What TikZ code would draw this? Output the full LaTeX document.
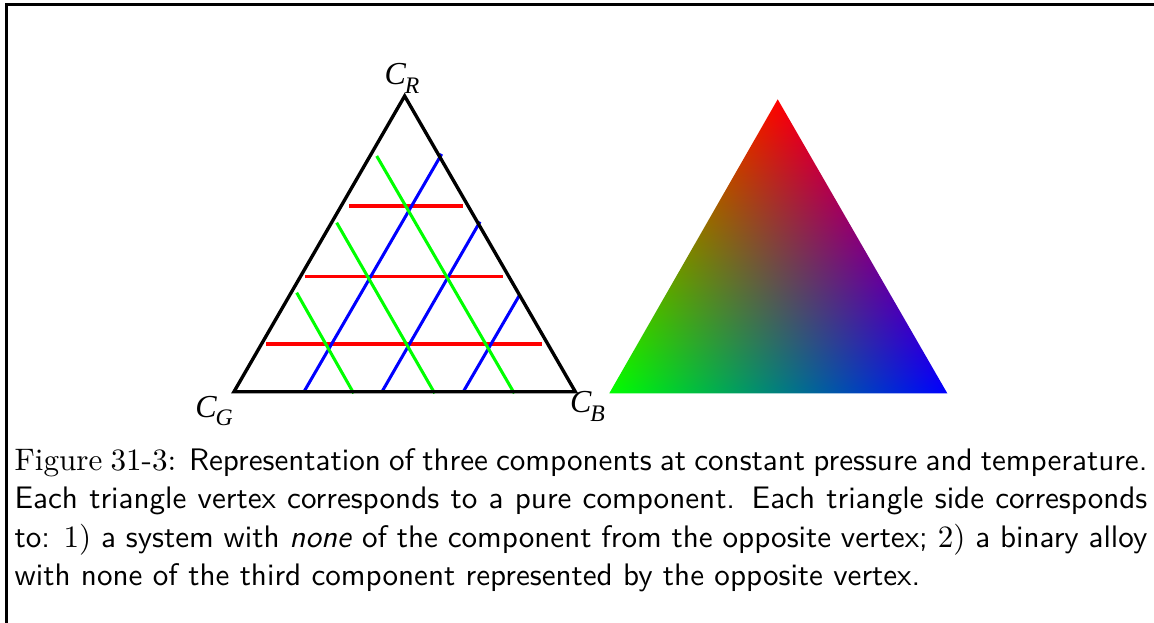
\documentclass[tikz,border=0pt]{standalone}
\usepackage{fontspec}
\newfontfamily\tms{Liberation Serif}
\pgfdeclarefunctionalshading{bary}{\pgfpoint{0bp}{0bp}}{\pgfpoint{100bp}{100bp}}{}{
  25 sub 50 div exch 25 sub 50 div exch
  dup 2 div
  2 index 1 index sub
  exch 1 exch sub 3 index sub
  exch 4 -1 roll pop
}
\tikzset{
  frameline/.style={line width=1pt, black},
  edge/.style={line width=1.05pt, black, line join=miter},
  redl/.style={line width=0.95pt, red},
  bluel/.style={line width=0.95pt, blue},
  greenl/.style={line width=0.95pt, green},
  vlab/.style={inner sep=0pt, font=\tms\itshape\fontsize{10}{12}\selectfont},
  capline/.style={anchor=base west, inner sep=0pt, font=\fontsize{9.72}{12}\selectfont\sffamily},
}
\newcommand{\sub}[1]{\kern-0.3pt\raisebox{-0.28em}{\fontsize{7.4}{8}\selectfont #1}}
\begin{document}
\begin{tikzpicture}[x=0.3125pt, y=-0.3125pt]
\useasboundingbox (0,0) rectangle (1154,623);
% frame
\coordinate (f1) at (6.5,623);
\coordinate (f2) at (6.5,4.7);
\coordinate (f3) at (1154,4.7);
\draw[frameline] (f1) -- (f2) -- (f3);
% left triangle vertices
\coordinate (G) at (234,391.7);
\coordinate (B) at (575.3,391.7);
\coordinate (R) at (404.65,96);
% red lines (constant R)
\coordinate (r1a) at (349,206);   \coordinate (r1b) at (462.7,206);
\coordinate (r2a) at (305,276.7); \coordinate (r2b) at (503.3,276.7);
\coordinate (r3a) at (266,344);   \coordinate (r3b) at (542.3,344);
\draw[redl] (r1a) -- (r1b);
\draw[redl] (r2a) -- (r2b);
\draw[redl] (r3a) -- (r3b);
% blue lines
\coordinate (b1a) at (304,391.7);   \coordinate (b1b) at (441.7,154);
\coordinate (b2a) at (382,391.7);   \coordinate (b2b) at (480,221.7);
\coordinate (b3a) at (463.3,391.7); \coordinate (b3b) at (520,294.3);
\draw[bluel] (b1a) -- (b1b);
\draw[bluel] (b2a) -- (b2b);
\draw[bluel] (b3a) -- (b3b);
% green lines
\coordinate (g1a) at (376.7,156);   \coordinate (g1b) at (514.3,393.3);
\coordinate (g2a) at (336.7,222.7); \coordinate (g2b) at (434.7,393.3);
\coordinate (g3a) at (296.7,292.7); \coordinate (g3b) at (353.7,393.3);
\draw[greenl] (g1a) -- (g1b);
\draw[greenl] (g2a) -- (g2b);
\draw[greenl] (g3a) -- (g3b);
% triangle outline
\draw[edge] (G) -- (B) -- (R) -- cycle;
% vertex labels
\node[vlab] (lR) at (402,78) {C\sub{R}};
\node[vlab] (lG) at (214,411) {C\sub{G}};
\node[vlab] (lB) at (587.5,406.5) {C\sub{B}};
% colour triangle
\coordinate (G2) at (609.3,393.3);
\coordinate (B2) at (947.3,393.3);
\coordinate (R2) at (777.7,99.3);
\shade[shading=bary] (G2) -- (B2) -- (R2) -- cycle;
% caption
\node[capline] (c1) at (14,470) {\makebox[354pt][s]{\rmfamily Figure 31-3: \sffamily Representation of three components at constant pressure and temperature.}};
\node[capline] (c2) at (14,508.5) {\makebox[354pt][s]{Each triangle vertex corresponds to a pure component. Each triangle side corresponds}};
\node[capline] (c3) at (14,547) {\makebox[354pt][s]{to: {\rmfamily 1)} a system with \textit{none} of the component from the opposite vertex; {\rmfamily 2)} a binary alloy}};
\node[capline] (c4) at (14,585.5) {with none of the third component represented by the opposite vertex.};
\end{tikzpicture}
\end{document}
